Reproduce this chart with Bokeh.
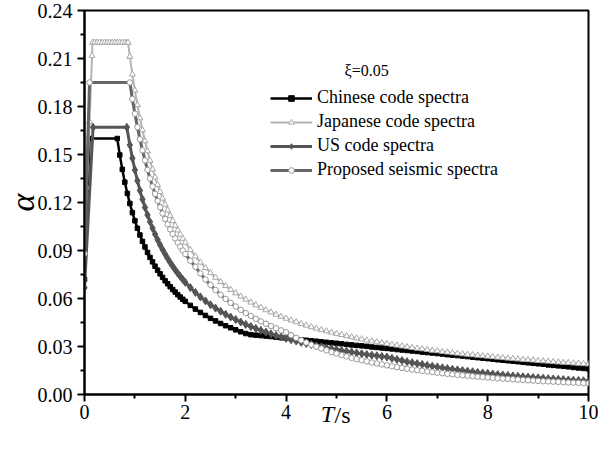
import math
from bokeh.plotting import figure
from bokeh.models import (Range1d, FixedTicker, Legend, LegendItem, Label,
                          NumeralTickFormatter, LinearAxis)
from bokeh.embed import file_html
from bokeh.resources import INLINE

# ---------------- data ----------------
SERIES_NAMES = ["Chinese code spectra", "Japanese code spectra",
                "US code spectra", "Proposed seismic spectra"]

# shared period grid for the long tail (s)
T_TAIL = [2.0, 2.1, 2.2, 2.3, 2.4, 2.5, 2.6, 2.7, 2.8, 2.9,
          3.0, 3.1, 3.2, 3.3, 3.4, 3.5, 3.6, 3.7, 3.8, 3.9,
          4.0, 4.1, 4.2, 4.3, 4.4, 4.5, 4.6, 4.7, 4.8, 4.9,
          5.0, 5.1, 5.2, 5.3, 5.4, 5.5, 5.6, 5.7, 5.8, 5.9,
          6.0, 6.1, 6.2, 6.3, 6.4, 6.5, 6.6, 6.7, 6.8, 6.9,
          7.0, 7.1, 7.2, 7.3, 7.4, 7.5, 7.6, 7.7, 7.8, 7.9,
          8.0, 8.1, 8.2, 8.3, 8.4, 8.5, 8.6, 8.7, 8.8, 8.9,
          9.0, 9.1, 9.2, 9.3, 9.4, 9.5, 9.6, 9.7, 9.8, 9.9, 10.0]

# Chinese code spectra
C_T_HEAD = [0.0, 0.1, 0.65, 0.7, 0.75, 0.8, 0.85, 0.9, 0.95, 1.0, 1.05, 1.1, 1.15,
            1.2, 1.25, 1.3, 1.35, 1.4, 1.45, 1.5, 1.55, 1.6, 1.65, 1.7, 1.75,
            1.8, 1.85, 1.9, 1.95]
C_HEAD = [0.072, 0.16, 0.16, 0.1497, 0.1407, 0.1327, 0.1257, 0.1194, 0.1137, 0.1086,
          0.1039, 0.0997, 0.0957, 0.0922, 0.0888, 0.0857, 0.0829, 0.0802, 0.0777,
          0.0754, 0.0732, 0.0711, 0.0692, 0.0674, 0.0656, 0.0640, 0.0624, 0.0609, 0.0595]
C_TAIL = [0.0582, 0.0557, 0.0534, 0.0513, 0.0494, 0.0476, 0.0460, 0.0444, 0.0430, 0.0417,
          0.0404, 0.0392, 0.0381, 0.0374, 0.0371, 0.0368, 0.0365, 0.0362, 0.0358, 0.0355,
          0.0352, 0.0349, 0.0345, 0.0342, 0.0339, 0.0336, 0.0333, 0.0329, 0.0326, 0.0323,
          0.0320, 0.0317, 0.0313, 0.0310, 0.0307, 0.0304, 0.0301, 0.0297, 0.0294, 0.0291,
          0.0288, 0.0285, 0.0281, 0.0278, 0.0275, 0.0272, 0.0269, 0.0265, 0.0262, 0.0259,
          0.0256, 0.0253, 0.0249, 0.0246, 0.0243, 0.0240, 0.0237, 0.0233, 0.0230, 0.0227,
          0.0224, 0.0221, 0.0217, 0.0214, 0.0211, 0.0208, 0.0205, 0.0201, 0.0198, 0.0195,
          0.0192, 0.0189, 0.0185, 0.0182, 0.0179, 0.0176, 0.0173, 0.0169, 0.0166, 0.0163,
          0.0160]

# Japanese code spectra
J_T_HEAD = [0.0, 0.05, 0.1, 0.15, 0.16, 0.2, 0.25, 0.3, 0.35, 0.4, 0.45, 0.5, 0.55,
            0.6, 0.65, 0.7, 0.75, 0.8, 0.85, 0.864, 0.9, 0.95, 1.0, 1.05, 1.1, 1.15,
            1.2, 1.25, 1.3, 1.35, 1.4, 1.45, 1.5, 1.55, 1.6, 1.65, 1.7, 1.75, 1.8,
            1.85, 1.9, 1.95]
J_HEAD = [0.088, 0.1293, 0.1705, 0.2118, 0.22, 0.22, 0.22, 0.22, 0.22, 0.22, 0.22,
          0.22, 0.22, 0.22, 0.22, 0.22, 0.22, 0.22, 0.22, 0.22, 0.2112, 0.2001, 0.1901,
          0.1810, 0.1728, 0.1653, 0.1584, 0.1521, 0.1462, 0.1408, 0.1358, 0.1311,
          0.1267, 0.1226, 0.1188, 0.1152, 0.1118, 0.1086, 0.1056, 0.1027, 0.1000, 0.0975]
J_TAIL = [0.0950, 0.0905, 0.0864, 0.0826, 0.0792, 0.0760, 0.0731, 0.0704, 0.0679, 0.0655,
          0.0634, 0.0613, 0.0594, 0.0576, 0.0559, 0.0543, 0.0528, 0.0514, 0.0500, 0.0487,
          0.0475, 0.0464, 0.0453, 0.0442, 0.0432, 0.0422, 0.0413, 0.0404, 0.0396, 0.0388,
          0.0380, 0.0373, 0.0366, 0.0359, 0.0352, 0.0346, 0.0339, 0.0333, 0.0328, 0.0322,
          0.0317, 0.0312, 0.0307, 0.0302, 0.0297, 0.0292, 0.0288, 0.0284, 0.0280, 0.0275,
          0.0272, 0.0268, 0.0264, 0.0260, 0.0257, 0.0253, 0.0250, 0.0247, 0.0244, 0.0241,
          0.0238, 0.0235, 0.0232, 0.0229, 0.0226, 0.0224, 0.0221, 0.0218, 0.0216, 0.0214,
          0.0211, 0.0209, 0.0207, 0.0204, 0.0202, 0.0200, 0.0198, 0.0196, 0.0194, 0.0192,
          0.0190]

# US code spectra
U_T_HEAD = [0.0, 0.17, 0.84, 0.9, 0.95, 1.0, 1.05, 1.1, 1.15, 1.2, 1.25, 1.3, 1.35,
            1.4, 1.45, 1.5, 1.55, 1.6, 1.65, 1.7, 1.75, 1.8, 1.85, 1.9, 1.95]
U_HEAD = [0.0667, 0.167, 0.167, 0.1559, 0.1477, 0.1403, 0.1336, 0.1275, 0.1220, 0.1169,
          0.1122, 0.1079, 0.1039, 0.1002, 0.0967, 0.0935, 0.0905, 0.0877, 0.0850, 0.0825,
          0.0802, 0.0779, 0.0758, 0.0738, 0.0719]
U_TAIL = [0.0701, 0.0668, 0.0638, 0.0610, 0.0585, 0.0561, 0.0540, 0.0520, 0.0501, 0.0484,
          0.0468, 0.0453, 0.0438, 0.0425, 0.0413, 0.0401, 0.0390, 0.0379, 0.0369, 0.0360,
          0.0351, 0.0342, 0.0334, 0.0326, 0.0319, 0.0312, 0.0305, 0.0298, 0.0292, 0.0286,
          0.0281, 0.0275, 0.0270, 0.0265, 0.0260, 0.0255, 0.0250, 0.0246, 0.0242, 0.0238,
          0.0234, 0.0226, 0.0219, 0.0212, 0.0205, 0.0199, 0.0193, 0.0188, 0.0182, 0.0177,
          0.0172, 0.0167, 0.0162, 0.0158, 0.0154, 0.0150, 0.0146, 0.0142, 0.0138, 0.0135,
          0.0132, 0.0128, 0.0125, 0.0122, 0.0119, 0.0116, 0.0114, 0.0111, 0.0109, 0.0106,
          0.0104, 0.0102, 0.0099, 0.0097, 0.0095, 0.0093, 0.0091, 0.0089, 0.0088, 0.0086,
          0.0084]

# Proposed seismic spectra
P_T_HEAD = [0.0, 0.1, 0.9, 0.95, 1.0, 1.05, 1.1, 1.15, 1.2, 1.25, 1.3, 1.35, 1.4,
            1.45, 1.5, 1.55, 1.6, 1.65, 1.7, 1.75, 1.8, 1.85, 1.9, 1.95]
P_HEAD = [0.088, 0.195, 0.195, 0.1847, 0.1755, 0.1671, 0.1595, 0.1526, 0.1463, 0.1404,
          0.1350, 0.1300, 0.1254, 0.1210, 0.1170, 0.1132, 0.1097, 0.1064, 0.1032, 0.1003,
          0.0975, 0.0949, 0.0924, 0.0900]
P_TAIL = [0.0878, 0.0836, 0.0798, 0.0757, 0.0719, 0.0685, 0.0653, 0.0624, 0.0597, 0.0573,
          0.0550, 0.0529, 0.0509, 0.0491, 0.0473, 0.0457, 0.0442, 0.0428, 0.0414, 0.0401,
          0.0389, 0.0371, 0.0354, 0.0339, 0.0325, 0.0311, 0.0299, 0.0287, 0.0276, 0.0265,
          0.0256, 0.0246, 0.0238, 0.0229, 0.0221, 0.0214, 0.0207, 0.0200, 0.0194, 0.0188,
          0.0182, 0.0176, 0.0171, 0.0166, 0.0161, 0.0156, 0.0152, 0.0148, 0.0144, 0.0140,
          0.0136, 0.0133, 0.0129, 0.0126, 0.0123, 0.0120, 0.0117, 0.0114, 0.0111, 0.0109,
          0.0106, 0.0104, 0.0101, 0.0099, 0.0097, 0.0095, 0.0093, 0.0091, 0.0089, 0.0087,
          0.0085, 0.0083, 0.0082, 0.0080, 0.0079, 0.0077, 0.0075, 0.0074, 0.0073, 0.0071,
          0.0070]

X_TICKS = [0, 2, 4, 6, 8, 10]
X_MINOR = [1, 3, 5, 7, 9]
Y_TICKS = [0.0, 0.03, 0.06, 0.09, 0.12, 0.15, 0.18, 0.21, 0.24]
Y_MINOR = [0.015, 0.045, 0.075, 0.105, 0.135, 0.165, 0.195, 0.225]

# ---------------- figure ----------------
FONT = "Liberation Serif"
p = figure(width=598, height=436, output_backend="svg", toolbar_location=None,
           x_range=Range1d(0, 10), y_range=Range1d(0, 0.24),
           min_border_left=80, min_border_right=10, min_border_top=10,
           min_border_bottom=42)
p.xgrid.visible = False
p.ygrid.visible = False
p.outline_line_color = "black"
p.outline_line_width = 2
p.background_fill_color = "white"
p.border_fill_color = "white"

p.xaxis.ticker = FixedTicker(ticks=X_TICKS, minor_ticks=X_MINOR)
p.yaxis.ticker = FixedTicker(ticks=Y_TICKS, minor_ticks=Y_MINOR)
p.yaxis.formatter = NumeralTickFormatter(format="0.00")
for ax in (p.xaxis[0], p.yaxis[0]):
    ax.axis_line_width = 2
    ax.axis_line_color = "black"
    ax.major_tick_line_width = 2
    ax.minor_tick_line_width = 2
    ax.major_tick_in = 0
    ax.major_tick_out = 7
    ax.minor_tick_in = 0
    ax.minor_tick_out = 4
    ax.major_label_text_font = FONT
    ax.major_label_text_font_size = "20px"
    ax.major_label_text_color = "black"
    ax.axis_label_text_font = FONT
    ax.axis_label_text_font_style = "italic"
    ax.axis_label_text_color = "black"
p.xaxis.major_label_standoff = 3
p.yaxis.major_label_standoff = 5

# y axis title (rotated alpha)
p.yaxis.axis_label = "α"
p.yaxis.axis_label_text_font_size = "34px"
p.yaxis.axis_label_standoff = -6

# x axis title "T/s": italic T on the main axis, upright "/s" on a bare second axis
p.xaxis.axis_label = "T\u00a0\u00a0\u00a0"
p.xaxis.axis_label_text_font_size = "24px"
p.xaxis.axis_label_standoff = -21

ax2 = LinearAxis(ticker=FixedTicker(ticks=[]), axis_line_color=None,
                 major_tick_line_color=None, minor_tick_line_color=None,
                 major_tick_out=0, minor_tick_out=0, major_label_standoff=0,
                 axis_label="\u00a0\u00a0/s", axis_label_text_font=FONT,
                 axis_label_text_font_size="24px", axis_label_text_font_style="normal",
                 axis_label_text_color="black", axis_label_standoff=-28)
p.add_layout(ax2, "below")

series = [
    (C_T_HEAD + T_TAIL, C_HEAD + C_TAIL,
     dict(line_color="#000000", line_width=2.5),
     dict(marker="square", size=4.5, fill_color="#000000", line_color="#000000")),
    (J_T_HEAD + T_TAIL, J_HEAD + J_TAIL,
     dict(line_color="#b4b4b4", line_width=2),
     dict(marker="triangle", size=6, fill_color="white", line_color="#a8a8a8", line_width=1)),
    (U_T_HEAD + T_TAIL, U_HEAD + U_TAIL,
     dict(line_color="#555555", line_width=3),
     dict(marker="diamond", size=8, fill_color="#555555", line_color="#555555")),
    (P_T_HEAD + T_TAIL, P_HEAD + P_TAIL,
     dict(line_color="#666666", line_width=3),
     dict(marker="circle", size=5.5, fill_color="white", line_color="#9a9a9a", line_width=1)),
]

items = []
for name, (xs, ys, lkw, mkw) in zip(SERIES_NAMES, series):
    lr = p.line(xs, ys, **lkw)
    sr = p.scatter(xs, ys, **mkw)
    items.append(LegendItem(label=name, renderers=[lr, sr]))

legend = Legend(items=items, location=(186, 214), glyph_width=42, glyph_height=14,
                label_height=14, spacing=3, padding=0, margin=0, label_standoff=5,
                border_line_alpha=0, background_fill_alpha=0,
                label_text_font=FONT, label_text_font_size="18px",
                label_text_color="black")
p.add_layout(legend)

p.add_layout(Label(x=5.16, y=0.2025, text="ξ=0.05", text_font=FONT,
                   text_font_size="16px", text_color="black",
                   text_baseline="alphabetic"))

open("out.html", "w").write(file_html(p, INLINE))
